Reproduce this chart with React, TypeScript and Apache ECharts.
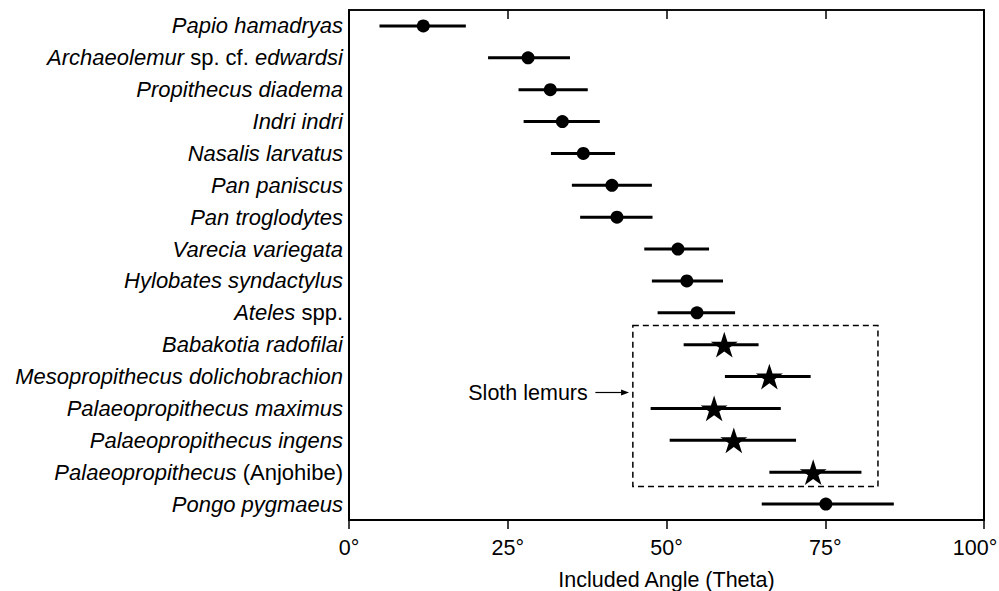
import React, { useEffect, useRef } from "react";
import * as echarts from "echarts";

// ---- data ----
const species = [
  "Papio hamadryas",
  "Archaeolemur sp. cf. edwardsi",
  "Propithecus diadema",
  "Indri indri",
  "Nasalis larvatus",
  "Pan paniscus",
  "Pan troglodytes",
  "Varecia variegata",
  "Hylobates syndactylus",
  "Ateles spp.",
  "Babakotia radofilai",
  "Mesopropithecus dolichobrachion",
  "Palaeopropithecus maximus",
  "Palaeopropithecus ingens",
  "Palaeopropithecus (Anjohibe)",
  "Pongo pygmaeus",
];
const means = [11.7, 28.2, 31.7, 33.6, 36.9, 41.4, 42.2, 51.8, 53.2, 54.8, 59.1, 66.2, 57.5, 60.6, 73.1, 75.1];
const lows = [4.8, 21.9, 26.7, 27.5, 31.8, 35.1, 36.4, 46.5, 47.7, 48.6, 52.7, 59.2, 47.5, 50.5, 66.2, 65.0];
const highs = [18.4, 34.8, 37.6, 39.5, 41.9, 47.7, 47.8, 56.7, 58.9, 60.8, 64.5, 72.7, 68.0, 70.4, 80.7, 85.8];
const slothLemur = [false, false, false, false, false, false, false, false, false, false, true, true, true, true, true, false];
const nonItalicParts = [" sp. cf. ", " spp.", " (Anjohibe)"];
const xMin = 0;
const xMax = 100;
const xStep = 25;
const annotationLabel = "Sloth lemurs";
const axisTitle = "Included Angle (Theta)";

// ---- annotation placement (degrees / row index) ----
const slothBox = { x0: 44.7, x1: 83.3, y0: 9.4, y1: 14.45 };
const arrowSpec = { textX: 37.6, x0: 38.8, x1: 44.1, y: 11.5 };

const FONT = '"Liberation Sans", Arial, Helvetica, sans-serif';
const STAR =
  "path://M50 0 L61.23 34.55 L97.55 34.55 L68.16 55.9 L79.39 90.45 L50 69.1 L20.61 90.45 L31.84 55.9 L2.45 34.55 L38.77 34.55 Z";

function richLabel(name: string): string {
  let parts: string[] = [name];
  for (const frag of nonItalicParts) {
    const next: string[] = [];
    parts.forEach((p) => {
      if (p.startsWith("\u0000")) {
        next.push(p);
        return;
      }
      const idx = p.indexOf(frag);
      if (idx < 0) {
        next.push(p);
      } else {
        if (idx > 0) next.push(p.slice(0, idx));
        next.push("\u0000" + frag);
        const rest = p.slice(idx + frag.length);
        if (rest) next.push(rest);
      }
    });
    parts = next;
  }
  return parts
    .map((p) => (p.startsWith("\u0000") ? `{n|${p.slice(1)}}` : `{i|${p}}`))
    .join("");
}

export default function App() {
  const ref = useRef<HTMLDivElement>(null);

  useEffect(() => {
    if (!ref.current) return;
    const chart = echarts.init(ref.current, null, { renderer: "svg" });

    const circleData: any[] = [];
    const starData: any[] = [];
    species.forEach((s, i) => {
      (slothLemur[i] ? starData : circleData).push([means[i], s]);
    });

    const option: any = {
      animation: false,
      backgroundColor: "#fff",
      grid: {
        left: 349,
        right: 15,
        top: 10,
        bottom: 71,
        show: false,
        containLabel: false,
        outerBoundsMode: "none",
      },
      xAxis: [
        {
          type: "value",
          min: xMin,
          max: xMax,
          interval: xStep,
          position: "bottom",
          axisLine: { show: true, onZero: false, lineStyle: { color: "#000", width: 2 } },
          axisTick: { show: true, length: 9, lineStyle: { color: "#000", width: 1.5 } },
          axisLabel: {
            formatter: (v: number) => (v === xMax ? `{m|${v}°}` : `${v}°`),
            color: "#000",
            fontSize: 21.5,
            fontFamily: FONT,
            margin: 17,
            rich: {
              m: { fontSize: 21.5, fontFamily: FONT, color: "#000", padding: [0, 18, 0, 0] },
            },
          },
          splitLine: { show: false },
          name: axisTitle,
          nameLocation: "middle",
          nameGap: 49,
          nameTextStyle: { color: "#000", fontSize: 21.5, fontFamily: FONT },
        },
        {
          type: "value",
          min: xMin,
          max: xMax,
          interval: xStep,
          position: "top",
          axisLine: { show: true, onZero: false, lineStyle: { color: "#000", width: 1.5 } },
          axisTick: { show: true, inside: true, length: 9, lineStyle: { color: "#000", width: 1.5 } },
          axisLabel: { show: false },
          splitLine: { show: false },
        },
      ],
      yAxis: [
        {
          type: "category",
          data: species,
          inverse: true,
          axisLine: { show: true, onZero: false, lineStyle: { color: "#000", width: 2 } },
          axisTick: { show: false },
          splitLine: { show: false },
          axisLabel: {
            margin: 6,
            formatter: (v: string) => richLabel(v),
            rich: {
              i: { fontStyle: "italic", fontSize: 22, fontFamily: FONT, color: "#000" },
              n: { fontStyle: "normal", fontSize: 22, fontFamily: FONT, color: "#000" },
            },
          },
        },
        {
          type: "value",
          min: -0.5,
          max: species.length - 0.5,
          inverse: true,
          position: "right",
          axisLine: { show: true, onZero: false, lineStyle: { color: "#000", width: 2 } },
          axisTick: { show: false },
          axisLabel: { show: false },
          splitLine: { show: false },
        },
      ],
      series: [
        {
          type: "custom",
          name: "range",
          xAxisIndex: 0,
          yAxisIndex: 0,
          data: species.map((s, i) => [lows[i], highs[i], s]),
          encode: { x: [0, 1], y: 2 },
          renderItem: (_p: any, api: any) => {
            const a = api.coord([api.value(0), api.value(2)]);
            const b = api.coord([api.value(1), api.value(2)]);
            return {
              type: "line",
              shape: { x1: a[0], y1: a[1], x2: b[0], y2: b[1] },
              style: { stroke: "#000", lineWidth: 3 },
            };
          },
          z: 2,
        },
        {
          type: "scatter",
          name: "mean",
          xAxisIndex: 0,
          yAxisIndex: 0,
          symbol: "circle",
          symbolSize: 13,
          itemStyle: { color: "#000", opacity: 1 },
          data: circleData,
          z: 3,
        },
        {
          type: "scatter",
          name: "mean (sloth lemurs)",
          xAxisIndex: 0,
          yAxisIndex: 0,
          symbol: STAR,
          symbolKeepAspect: true,
          symbolSize: 27,
          itemStyle: { color: "#000", opacity: 1 },
          data: starData,
          z: 3,
        },
        {
          type: "custom",
          name: "annotation",
          xAxisIndex: 0,
          yAxisIndex: 1,
          data: [[0, 0]],
          silent: true,
          renderItem: (_p: any, api: any) => {
            const a = api.coord([slothBox.x0, slothBox.y0]);
            const b = api.coord([slothBox.x1, slothBox.y1]);
            const t = api.coord([arrowSpec.textX, arrowSpec.y]);
            const l0 = api.coord([arrowSpec.x0, arrowSpec.y]);
            const l1 = api.coord([arrowSpec.x1, arrowSpec.y]);
            const f0 = api.coord([xMin, -0.5]);
            const f1 = api.coord([xMax, species.length - 0.5]);
            return {
              type: "group",
              children: [
                {
                  type: "rect",
                  shape: { x: f0[0], y: f0[1], width: f1[0] - f0[0], height: f1[1] - f0[1] },
                  style: { fill: "none", stroke: "#000", lineWidth: 1.5 },
                },
                {
                  type: "rect",
                  shape: { x: a[0], y: a[1], width: b[0] - a[0], height: b[1] - a[1] },
                  style: { fill: "none", stroke: "#000", lineWidth: 1.5, lineDash: [6, 4] },
                },
                {
                  type: "line",
                  shape: { x1: l0[0], y1: l0[1], x2: l1[0] - 6, y2: l1[1] },
                  style: { stroke: "#000", lineWidth: 1.2 },
                },
                {
                  type: "polygon",
                  shape: {
                    points: [
                      [l1[0], l1[1]],
                      [l1[0] - 8, l1[1] - 3],
                      [l1[0] - 8, l1[1] + 3],
                    ],
                  },
                  style: { fill: "#000" },
                },
                {
                  type: "text",
                  x: t[0],
                  y: t[1],
                  style: {
                    text: annotationLabel,
                    fill: "#000",
                    fontSize: 21.5,
                    fontFamily: FONT,
                    align: "right",
                    verticalAlign: "middle",
                  },
                },
              ],
            };
          },
          z: 1,
        },
      ],
    };

    chart.setOption(option);
    return () => chart.dispose();
  }, []);

  return (
    <div
      ref={ref}
      style={{ position: "absolute", left: 0, top: 0, width: 999, height: 591 }}
    />
  );
}
